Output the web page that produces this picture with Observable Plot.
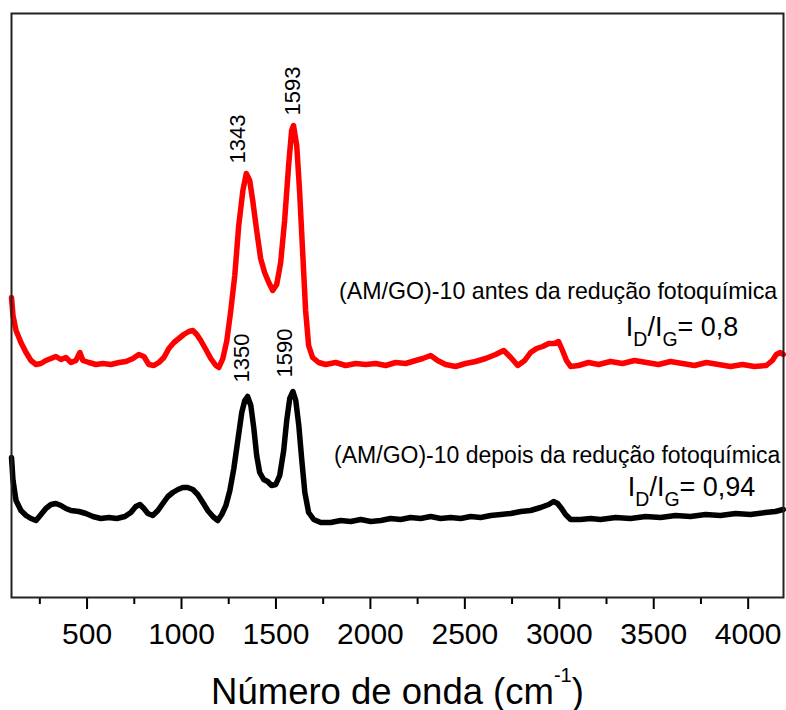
<!DOCTYPE html>
<html>
<head>
<meta charset="utf-8">
<script src="https://cdn.jsdelivr.net/npm/d3@7"></script>
<script src="https://cdn.jsdelivr.net/npm/@observablehq/plot@0.6"></script>
<style>
  html, body { margin: 0; padding: 0; background: #fff; }
</style>
</head>
<body>
<div id="chart"></div>
<script>
// Raman spectrum, (AM/GO)-10 before photochemical reduction: [wavenumber cm-1, intensity a.u.]
const redSpectrum = [
  [100,300],[108,282],[124,267],[150,255],[177,245],[203,237],[230,233],[256,234],[282,237],
  [309,239],[335,241],[362,238],[388,240],[415,235],[441,237],[462,245],[478,237],[510,235],
  [547,233],[584,234],[626,233],[669,235],[706,236],[743,239],[774,243],[801,241],[827,233],
  [854,232],[880,235],[907,240],[933,249],[960,255],[986,259],[1012,263],[1039,266],[1060,267],
  [1081,263],[1102,257],[1129,248],[1155,239],[1182,232],[1198,230],[1219,239],[1240,257],
  [1261,287],[1282,322],[1303,372],[1325,407],[1343,424],[1361,417],[1377,397],[1398,367],
  [1419,339],[1440,325],[1462,315],[1483,307],[1504,313],[1525,335],[1546,377],[1567,432],
  [1583,467],[1593,472],[1610,452],[1625,407],[1641,347],[1657,287],[1673,252],[1694,240],
  [1726,235],[1763,233],[1816,235],[1869,232],[1922,234],[1975,233],[2028,234],[2081,232],
  [2134,235],[2187,234],[2240,237],[2277,239],[2319,242],[2356,237],[2398,233],[2451,231],
  [2504,234],[2557,236],[2610,239],[2663,243],[2706,247],[2743,240],[2780,232],[2817,237],
  [2848,245],[2880,249],[2912,251],[2944,254],[2975,254],[2996,256],[3017,247],[3038,237],
  [3060,231],[3102,232],[3155,235],[3208,233],[3271,236],[3335,234],[3398,237],[3462,235],
  [3525,233],[3589,236],[3652,234],[3716,232],[3779,235],[3843,233],[3906,231],[3970,233],
  [4033,231],[4096,232],[4128,237],[4149,243],[4170,245],[4186,243]
];

// Raman spectrum, (AM/GO)-10 after photochemical reduction
const blackSpectrum = [
  [100,140],[108,117],[124,97],[150,87],[177,82],[203,79],[230,77],[256,83],[282,89],[309,93],
  [335,94],[362,92],[388,89],[415,87],[457,86],[494,84],[531,81],[573,79],[615,80],[658,79],
  [700,81],[732,85],[758,91],[780,93],[801,89],[822,84],[848,82],[875,87],[901,94],[928,101],
  [954,105],[981,108],[1007,110],[1033,110],[1060,108],[1086,103],[1113,95],[1139,87],[1166,81],
  [1192,77],[1213,83],[1235,92],[1256,107],[1277,129],[1298,157],[1319,185],[1335,197],
  [1350,201],[1367,192],[1383,169],[1398,142],[1414,125],[1435,118],[1456,116],[1477,112],
  [1499,113],[1520,122],[1541,147],[1557,177],[1573,199],[1590,206],[1605,197],[1621,172],
  [1637,137],[1653,105],[1673,85],[1700,78],[1737,75],[1790,75],[1843,77],[1896,76],[1949,78],
  [2002,76],[2055,77],[2107,79],[2160,78],[2213,80],[2266,79],[2319,81],[2372,79],[2425,80],
  [2478,79],[2531,81],[2584,80],[2637,82],[2690,83],[2743,84],[2796,86],[2848,87],[2901,90],
  [2944,93],[2970,96],[2991,94],[3012,89],[3033,83],[3060,78],[3113,78],[3166,79],[3218,78],
  [3298,80],[3377,79],[3457,81],[3536,80],[3615,82],[3695,81],[3774,83],[3853,82],[3933,84],
  [4012,83],[4091,85],[4144,86],[4186,88]
];

const majorTicks = [500, 1000, 1500, 2000, 2500, 3000, 3500, 4000];
const minorTicks = [250, 750, 1250, 1750, 2250, 2750, 3250, 3750];
const tickLabels = ["500", "1000", "1500", "2000", "2500", "3000", "3500", "4000"];

// Peak annotations (rotated)
const peakText = ["1343", "1593", "1350", "1590"];
const peakWn   = [1298, 1589, 1319, 1549];
const peakI    = [434, 482, 215, 220];

// Sample annotations (right aligned; _{} = subscript)
const noteText = [
  "(AM/GO)-10 antes da redução fotoquímica",
  "I_{D}/I_{G}= 0,8",
  "(AM/GO)-10 depois da redução fotoquímica",
  "I_{D}/I_{G}= 0,94"
];
const noteWn   = [4154, 3948, 4170, 4038];
const noteI    = [299, 262, 135, 102];
const noteSize = [23.2, 27, 23, 27];

const xTitle = "Número de onda (cm^{-1})";

const peaks = peakText.map((t, i) => ({t, x: peakWn[i], y: peakI[i]}));
const notes = noteText.map((t, i) => ({t, x: noteWn[i], y: noteI[i], s: noteSize[i]}));
const tickData = majorTicks.map((v, i) => ({v, t: tickLabels[i]}));

const chart = Plot.plot({
  width: 786,
  height: 710,
  marginLeft: 11,
  marginTop: 13,
  marginRight: 3,
  marginBottom: 113,
  style: {fontFamily: "'Liberation Sans', Arial, sans-serif", background: "#fff", color: "#000"},
  x: {domain: [100, 4187], label: null},
  y: {domain: [0, 584], axis: null},
  marks: [
    Plot.axisX({ticks: minorTicks, tickSize: 7, tickFormat: () => "", strokeWidth: 2, label: null}),
    Plot.axisX({ticks: majorTicks, tickSize: 12, tickFormat: () => "", strokeWidth: 2, label: null}),
    Plot.text(tickData, {x: "v", text: "t", frameAnchor: "bottom", dy: 25, lineAnchor: "top",
                         fontSize: 30, fill: "#000"}),
    Plot.line(redSpectrum, {x: d => d[0], y: d => d[1], stroke: "#ff0000", strokeWidth: 5.5,
                            strokeLinejoin: "round", curve: "linear"}),
    Plot.line(blackSpectrum, {x: d => d[0], y: d => d[1], stroke: "#000", strokeWidth: 5.5,
                              strokeLinejoin: "round", curve: "linear"}),
    Plot.text(peaks, {x: "x", y: "y", text: "t", rotate: -90, textAnchor: "start",
                      lineAnchor: "middle", fontSize: 22, fill: "#000"}),
    Plot.text(notes, {x: "x", y: "y", text: "t", textAnchor: "end", lineAnchor: "bottom",
                      fontSize: d => d.s, fill: "#000"}),
    Plot.text([xTitle], {frameAnchor: "bottom", dy: 106, lineAnchor: "bottom", fontSize: 36.5,
                         text: d => d, fill: "#000"}),
    Plot.frame({stroke: "#222", strokeWidth: 2})
  ]
});

document.getElementById("chart").appendChild(chart);

// Convert _{..} / ^{..} markers into real subscript / superscript tspans
d3.select(chart).selectAll("text").each(function () {
  const t = this.textContent;
  if (!/[_^]\{/.test(t)) return;
  const el = d3.select(this);
  el.text("");
  const re = /([_^])\{([^}]*)\}/g;
  let last = 0, m, pending = 0;
  while ((m = re.exec(t))) {
    if (m.index > last) {
      el.append("tspan").attr("dy", pending ? `${pending}em` : null).text(t.slice(last, m.index));
      pending = 0;
    }
    const shiftParent = m[1] === "_" ? 0.38 : -0.6;
    const sz = m[1] === "_" ? 0.72 : 0.55;
    el.append("tspan").attr("font-size", `${sz}em`).attr("dy", `${shiftParent / sz}em`).text(m[2]);
    pending = -shiftParent;
    last = re.lastIndex;
  }
  if (last < t.length) {
    el.append("tspan").attr("dy", pending ? `${pending}em` : null).text(t.slice(last));
  }
});
</script>
</body>
</html>
